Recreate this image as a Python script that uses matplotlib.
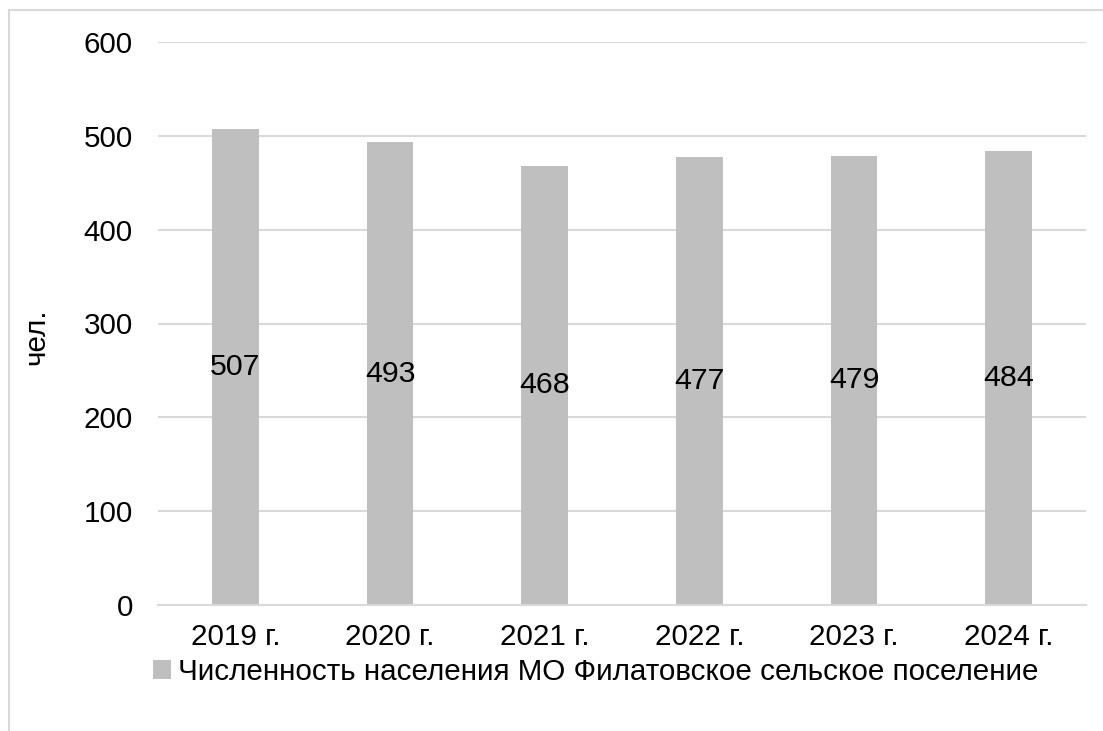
import matplotlib.pyplot as plt
from matplotlib.lines import Line2D

years = ["2019 г.", "2020 г.", "2021 г.", "2022 г.", "2023 г.", "2024 г."]
population = [507, 493, 468, 477, 479, 484]
series_name = "Численность населения МО Филатовское сельское поселение"
y_ticks = [0, 100, 200, 300, 400, 500, 600]

plt.rcParams['font.family'] = ['Liberation Sans', 'DejaVu Sans']
grid_col = '#D9D9D9'
bar_col = '#BFBFBF'
fs = 21.3

fig = plt.figure(figsize=(11.03, 7.31), dpi=100)
ax = fig.add_axes([158 / 1103, 1 - 605 / 731, (1086 - 158) / 1103, (605 - 42) / 731])

x = list(range(len(years)))
bars = ax.bar(x, population, width=0.30, color=bar_col, label=series_name, zorder=2)

# value labels in the middle of each bar
for xi, v in zip(x, population):
    ax.text(xi, v / 2, str(v), ha='center', va='center', fontsize=fs + 0.5, color='black', zorder=3)

ax.set_xlim(-0.5, len(years) - 0.5)
ax.set_ylim(0, 600)
ax.set_yticks(y_ticks)
ax.set_xticks(x)
ax.set_xticklabels(years)
ax.tick_params(axis='both', length=0, labelsize=fs)
ax.tick_params(axis='y', pad=18)
ax.tick_params(axis='x', pad=13)
ax.yaxis.grid(True, color=grid_col, linewidth=1.5, zorder=0)
for s in ['top', 'right', 'left']:
    ax.spines[s].set_visible(False)
ax.spines['bottom'].set_color(grid_col)
ax.spines['bottom'].set_linewidth(1.5)
ax.set_ylabel("чел.", fontsize=fs)
ax.yaxis.set_label_coords(-0.116, 0.477)

leg = fig.legend(handles=[bars], labels=[series_name], loc='center left',
                 bbox_to_anchor=(141 / 1103, 1 - 672 / 731), frameon=False,
                 fontsize=fs, handlelength=0.6, handleheight=0.6, handletextpad=0.25,
                 borderaxespad=0)

# partial chart border
fig.add_artist(Line2D([9 / 1103, 1], [1 - 10 / 731, 1 - 10 / 731], color=grid_col, linewidth=1.5))
fig.add_artist(Line2D([9 / 1103, 9 / 1103], [0, 1 - 10 / 731], color=grid_col, linewidth=1.5))

fig.savefig("out.png", dpi=100)
